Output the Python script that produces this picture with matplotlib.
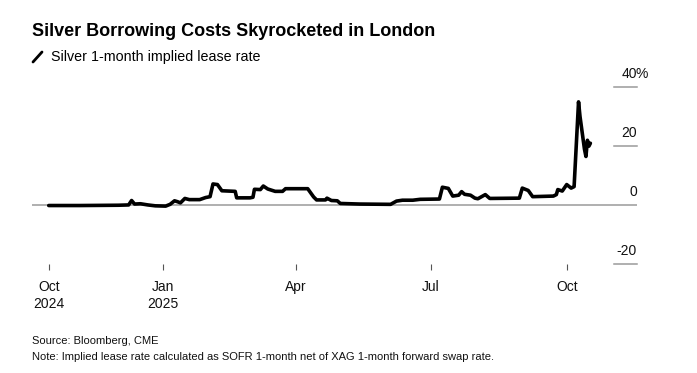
import numpy as np
import pandas as pd
import matplotlib
matplotlib.use("Agg")
import matplotlib.pyplot as plt
import matplotlib.dates as mdates
from matplotlib.lines import Line2D

plt.rcParams['font.family'] = ['Liberation Sans', 'DejaVu Sans']

# data (%)
dates = pd.to_datetime([
    "2024-10-16", "2024-11-06", "2024-12-02", "2024-12-09", "2024-12-11", "2024-12-13",
    "2024-12-17", "2024-12-22", "2024-12-27", "2025-01-03", "2025-01-06", "2025-01-09",
    "2025-01-11", "2025-01-13", "2025-01-16", "2025-01-19", "2025-01-26", "2025-01-30",
    "2025-02-02", "2025-02-04", "2025-02-07", "2025-02-10", "2025-02-19", "2025-02-20",
    "2025-03-01", "2025-03-03", "2025-03-04", "2025-03-08", "2025-03-10", "2025-03-13",
    "2025-03-18", "2025-03-23", "2025-03-25", "2025-04-09", "2025-04-13", "2025-04-15",
    "2025-04-21", "2025-04-22", "2025-04-25", "2025-04-29", "2025-05-01", "2025-05-14",
    "2025-06-04", "2025-06-08", "2025-06-12", "2025-06-19", "2025-06-24", "2025-07-07",
    "2025-07-09", "2025-07-13", "2025-07-16", "2025-07-20", "2025-07-22", "2025-07-24",
    "2025-07-28", "2025-07-31", "2025-08-02", "2025-08-07", "2025-08-10", "2025-08-30",
    "2025-09-01", "2025-09-05", "2025-09-08", "2025-09-22", "2025-09-24", "2025-09-25",
    "2025-09-28", "2025-10-01", "2025-10-04", "2025-10-06", "2025-10-09", "2025-10-10",
    "2025-10-13", "2025-10-14", "2025-10-15", "2025-10-16", "2025-10-17",
])
lease_rate = [
    -0.1, -0.1, 0.0, 0.1, 1.6, 0.4,
    0.5, 0.1, -0.2, -0.3, 0.3, 1.5,
    1.2, 0.8, 2.3, 1.9, 1.9, 2.6,
    2.9, 7.2, 7.0, 4.9, 4.7, 2.5,
    2.5, 2.7, 5.4, 5.3, 6.5, 5.5,
    4.7, 4.7, 5.6, 5.6, 2.8, 1.8,
    1.8, 2.4, 1.6, 1.5, 0.6, 0.4,
    0.3, 1.4, 1.7, 1.7, 2.0, 2.1,
    6.1, 5.7, 3.1, 3.4, 4.6, 3.7,
    3.4, 2.4, 2.2, 3.6, 2.3, 2.4,
    5.8, 5.0, 2.9, 3.1, 3.6, 5.3,
    4.8, 7.0, 5.8, 6.3, 35.0, 30.0,
    19.0, 16.5, 22.0, 20.0, 21.0,
]

tick_dates = pd.to_datetime(["2024-10-16", "2025-01-01", "2025-04-01", "2025-07-01", "2025-10-01"])
tick_labels = ["Oct\n2024", "Jan\n2025", "Apr", "Jul", "Oct"]
y_ticks = [-20, 0, 20, 40]

W, H = 697, 373
fig = plt.figure(figsize=(W / 100, H / 100), dpi=100)
fig.patch.set_facecolor("white")

# axes placed in pixel terms
left, right, top, bottom = 32, 637, 87.1, 264.3
ax = fig.add_axes([left / W, 1 - bottom / H, (right - left) / W, (bottom - top) / H])

ax.plot(dates, lease_rate, color="black", lw=2.6, solid_joinstyle="round", solid_capstyle="round", zorder=3)

jan1 = mdates.date2num(pd.Timestamp("2025-01-01"))
ax.set_xlim(jan1 - 88.3, jan1 + 320.5)
ax.set_ylim(-20, 40)

for s in ax.spines.values():
    s.set_visible(False)

# zero line full width, other gridlines only as stubs at the right
ax.axhline(0, color="#9a9a9a", lw=1.1, zorder=1)
ytr = ax.get_yaxis_transform()
for yv in y_ticks:
    if yv != 0:
        ax.plot([0.962, 1.0], [yv, yv], transform=ytr, color="#9a9a9a", lw=1.1, clip_on=False)
    ax.text(1.0, yv + 2.0, str(yv), transform=ytr, ha="right", va="bottom",
            fontsize=10, color="#111111")
ax.annotate("%", xy=(1.0, 42.0), xycoords=ytr, xytext=(-1, 0), textcoords="offset points",
            ha="left", va="bottom", fontsize=10, color="#111111")

ax.set_yticks([])
ax.set_xticks(tick_dates)
ax.set_xticklabels(tick_labels, fontsize=10, color="#111111", linespacing=1.3)
ax.tick_params(axis="x", length=4, width=0.8, color="#555555", pad=7)

# title / legend / footer
fig.text(32 / W, 1 - 32 / H, "Silver Borrowing Costs Skyrocketed in London", fontsize=13,
         fontweight="bold", ha="left", va="center")
fig.add_artist(Line2D([33 / W, 42 / W], [1 - 62 / H, 1 - 52 / H], color="black", lw=2,
                      solid_capstyle="round"))
fig.text(51 / W, 1 - 57 / H, "Silver 1-month implied lease rate", fontsize=10.3, ha="left", va="center")
fig.text(32 / W, 1 - 341 / H, "Source: Bloomberg, CME", fontsize=8, ha="left", va="center", color="#111111")
fig.text(32 / W, 1 - 356.5 / H,
         "Note: Implied lease rate calculated as SOFR 1-month net of XAG 1-month forward swap rate.",
         fontsize=8, ha="left", va="center", color="#111111")

fig.savefig("out.png", dpi=100, facecolor="white")
